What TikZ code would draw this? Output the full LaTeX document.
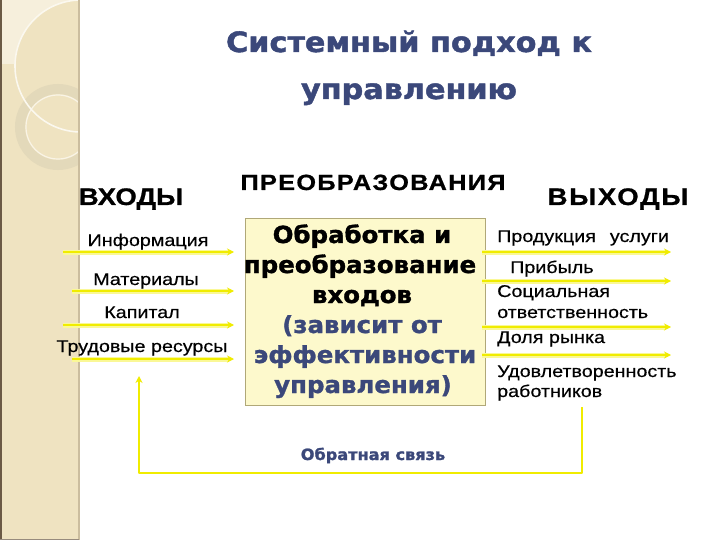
\documentclass[tikz,border=0pt]{standalone}
\usepackage{fontspec}
\setmainfont{Liberation Sans}[FakeStretch=1.16,FakeBold=0.4]
\newfontfamily\heavy{DejaVu Sans Bold}[FakeStretch=1.04,FakeBold=1.3]
\newfontfamily\heavyT{DejaVu Sans Bold}[FakeStretch=1.08,FakeBold=1.6]
\newfontfamily\hfont{Liberation Sans Bold}[FakeStretch=1.15,FakeBold=0.8]
\usetikzlibrary{arrows.meta}
\definecolor{titleblue}{RGB}{59,72,122}
\definecolor{ayellow}{RGB}{240,236,0}
\definecolor{aglow}{RGB}{250,248,150}
\definecolor{boxfill}{RGB}{253,249,204}
\definecolor{boxdraw}{RGB}{176,168,120}
\definecolor{stripbg}{RGB}{239,227,193}
\definecolor{striplight}{RGB}{246,239,220}
\definecolor{ringcol}{RGB}{227,217,186}
\definecolor{edgecol}{RGB}{107,90,69}
\definecolor{bordercol}{RGB}{203,189,158}
\tikzset{
  lbl/.style={inner sep=0pt, anchor=base, font=\fontsize{17}{20}\selectfont},
  rlbl/.style={inner sep=0pt, anchor=base west, font=\fontsize{17}{20}\selectfont},
  hdr/.style={inner sep=0pt, anchor=base, font=\hfont\fontsize{24}{28}\selectfont},
  flow/.style={ayellow, line width=2.6pt, -{Stealth[length=7pt,width=7pt]}},
  glow/.style={aglow, line width=5pt},
  fb/.style={ayellow, line width=2.8pt}
}
\begin{document}
\begin{tikzpicture}[x=1pt,y=-1pt]
\useasboundingbox (0,0) rectangle (720,540);
\fill[white] (0,0) rectangle (720,540);
% left decorative strip
\fill[stripbg] (0,0) rectangle (79,540);
\begin{scope}
  \clip (0,0) rectangle (79,540);
  \fill[striplight] (0,0) rectangle (79,64);
  \fill[stripbg] (81,66) circle (66);
  \draw[ringcol, line width=10pt] (58,127) circle (38);
  \draw[white!60!stripbg, line width=1.2pt] (58,127) circle (32);
  \draw[white!75!stripbg, line width=1.6pt] (81,66) circle (66);
\end{scope}
\fill[edgecol] (0,0) rectangle (2,540);
\draw[bordercol, line width=1.5pt] (79,0) -- (79,540);
\draw[edgecol!70, line width=1pt] (0,539) -- (79,539);

% title
\node[inner sep=0pt, anchor=base, text=titleblue, font=\heavyT\fontsize{28}{32}\selectfont] (t1) at (409,52) {Системный подход к};
\node[inner sep=0pt, anchor=base, text=titleblue, font=\heavyT\fontsize{28}{32}\selectfont] (t2) at (409,99) {управлению};

% headers
\node[hdr] (hin) at (131,205) {ВХОДЫ};
\node[hdr, font=\hfont\fontsize{22}{26}\selectfont\addfontfeature{LetterSpace=6}] (hproc) at (373,190) {ПРЕОБРАЗОВАНИЯ};
\node[hdr, font=\hfont\fontsize{24}{28}\selectfont\addfontfeature{LetterSpace=7}] (hout) at (618,205) {ВЫХОДЫ};

% central box
\node[draw=boxdraw, fill=boxfill, line width=0.8pt, minimum width=240pt, minimum height=187pt, inner sep=0pt] (box) at (365,311.5) {};
\begin{scope}[every node/.style={inner sep=0pt, anchor=base, font=\heavy\fontsize{23.5}{28}\selectfont}]
\node (b1) at (362,243) {Обработка и};
\node (b2) at (360,273) {преобразование};
\node (b3) at (362,303) {входов};
\node[text=titleblue] (b4) at (362,333) {(зависит от};
\node[text=titleblue] (b5) at (365,363) {эффективности};
\node[text=titleblue] (b6) at (363,393) {управления)};
\end{scope}

% inputs
\node[lbl] (i1) at (148,246) {Информация};
\node[lbl] (i2) at (146,285) {Материалы};
\node[lbl] (i3) at (142,318) {Капитал};
\node[lbl] (i4) at (142,352) {Трудовые ресурсы};
\coordinate (is1) at (63,252);  \coordinate (ie1) at (234,252);
\coordinate (is2) at (72,291);  \coordinate (ie2) at (234,291);
\coordinate (is3) at (63,325);  \coordinate (ie3) at (234,325);
\coordinate (is4) at (72,359);  \coordinate (ie4) at (234,359);
\foreach \k in {1,...,4} {
  \draw[glow] (is\k) -- ([xshift=-5pt]ie\k);
  \draw[flow] (is\k) -- (ie\k);
}

% outputs
\node[rlbl] (o1) at (497,242) {Продукция\hspace{14pt}услуги};
\node[rlbl] (o2) at (510,273) {Прибыль};
\node[rlbl] (o3) at (497,297) {Социальная};
\node[rlbl] (o3b) at (497,318) {ответственность};
\node[rlbl] (o4) at (497,343) {Доля рынка};
\node[rlbl] (o5) at (497,377) {Удовлетворенность};
\node[rlbl] (o5b) at (497,397) {работников};
\coordinate (os1) at (482,252);  \coordinate (oe1) at (671,252);
\coordinate (os2) at (482,281);  \coordinate (oe2) at (671,281);
\coordinate (os3) at (482,327);  \coordinate (oe3) at (671,327);
\coordinate (os4) at (482,355);  \coordinate (oe4) at (671,355);
\foreach \k in {1,...,4} {
  \draw[glow] (os\k) -- ([xshift=-5pt]oe\k);
  \draw[flow] (os\k) -- (oe\k);
}

% feedback
\coordinate (fs) at (582,407);
\coordinate (fc1) at (582,473);
\coordinate (fc2) at (139,473);
\coordinate (fe) at (139,376);
\draw[fb, line join=round, -{Stealth[length=7pt,width=7pt]}] (fs) -- (fc1) -- (fc2) -- (fe);
\node[inner sep=0pt, anchor=base, text=titleblue, font=\heavy\fontsize{15.5}{19}\selectfont] (fbl) at (373,460) {Обратная связь};
\end{tikzpicture}
\end{document}
